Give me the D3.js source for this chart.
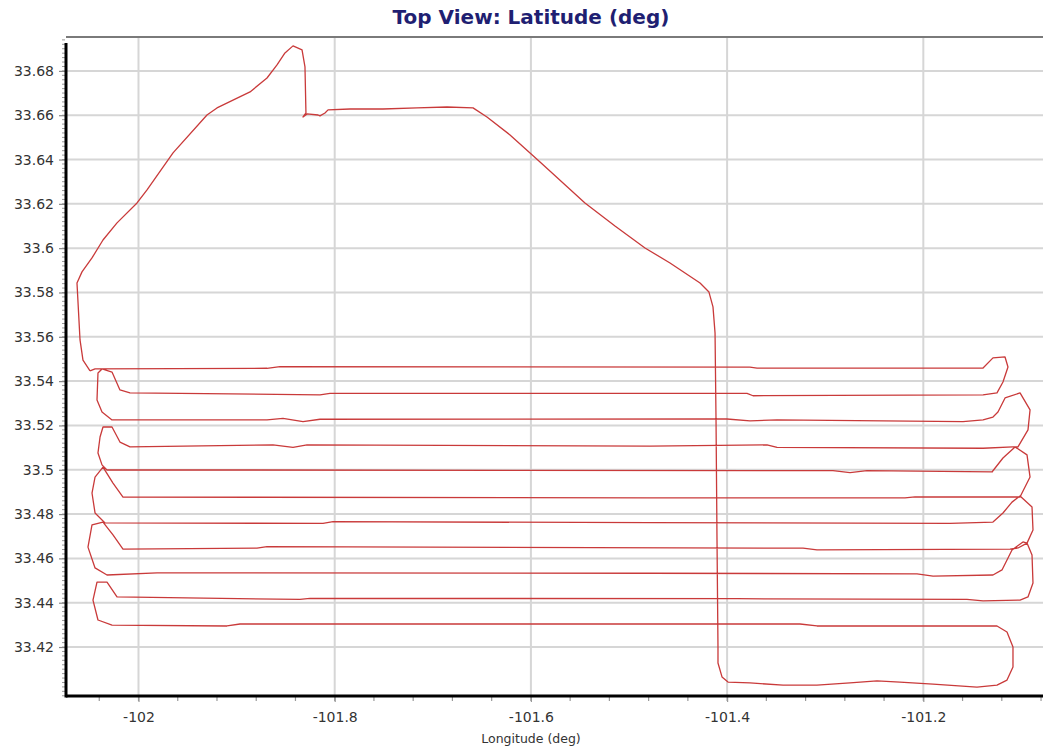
<!DOCTYPE html>
<html><head><meta charset="utf-8">
<script src="https://cdn.jsdelivr.net/npm/d3@7"></script>
<style>body{margin:0;background:#fff} svg{display:block}</style>
</head><body><svg id="c" width="1043" height="750"></svg>
<script>
const chartTitle = "Top View: Latitude (deg)";
const xTitle = "Longitude (deg)";
const xTicks = [-102, -101.8, -101.6, -101.4, -101.2];
const xTickLabels = ["-102", "-101.8", "-101.6", "-101.4", "-101.2"];
const yTicks = [33.42, 33.44, 33.46, 33.48, 33.5, 33.52, 33.54, 33.56, 33.58, 33.6, 33.62, 33.64, 33.66, 33.68];
const yTickLabels = ["33.42", "33.44", "33.46", "33.48", "33.5", "33.52", "33.54", "33.56", "33.58", "33.6", "33.62", "33.64", "33.66", "33.68"];

// flight track [longitude, latitude]
const climbOut = [
[-102.0494,33.5446],[-102.0566,33.5495],[-102.0596,33.5586],[-102.0627,33.5843],[-102.0576,33.5893],[-102.0474,33.5956],[-102.0362,33.6037],[-102.0219,33.6114],[-102.0015,33.6204],[-101.9913,33.6263],[-101.9648,33.6430],[-101.9302,33.6601],[-101.9200,33.6633],[-101.8863,33.6705],[-101.8690,33.6768],[-101.8588,33.6827],[-101.8507,33.6881],[-101.8425,33.6913],[-101.8333,33.6895],[-101.8303,33.6818],[-101.8293,33.6610],[-101.8323,33.6592],[-101.8282,33.6606],[-101.8170,33.6601],[-101.8150,33.6597],[-101.8099,33.6610],[-101.8068,33.6624],[-101.7844,33.6628],[-101.7508,33.6628],[-101.7161,33.6633],[-101.6855,33.6637],[-101.6590,33.6633],[-101.6448,33.6592]
];
const transit = [
[-101.6213,33.6511],[-101.5907,33.6389],[-101.5449,33.6204],[-101.5143,33.6100],[-101.4837,33.6001],[-101.4582,33.5933],[-101.4276,33.5843],[-101.4185,33.5802],[-101.4144,33.5735],[-101.4123,33.5617],[-101.4113,33.5225],[-101.4103,33.4683],[-101.4093,33.4200],[-101.4093,33.4128],[-101.4052,33.4065],[-101.3991,33.4042]
];
const bottomLeg = [
[-101.3767,33.4038],[-101.3430,33.4028],[-101.3084,33.4028],[-101.2747,33.4038],[-101.2472,33.4047],[-101.2238,33.4042],[-101.1901,33.4033],[-101.1453,33.4019],[-101.1249,33.4028],[-101.1147,33.4051],[-101.1086,33.4110],[-101.1086,33.4200],[-101.1147,33.4268],[-101.1249,33.4295]
];
const surveyPasses = [
[-101.3084,33.4295],[-101.3257,33.4304],[-101.8965,33.4304],[-101.9098,33.4295],[-102.0270,33.4299],
[-102.0413,33.4322],[-102.0464,33.4412],[-102.0423,33.4493],[-102.0321,33.4493],[-102.0219,33.4426],
[-101.8354,33.4415],[-101.8252,33.4420],[-101.3899,33.4418],[-101.1555,33.4415],[-101.1391,33.4408],[-101.1014,33.4412],
[-101.0933,33.4426],[-101.0882,33.4489],[-101.0892,33.4615],[-101.0943,33.4669],[-101.0984,33.4674],[-101.1096,33.4638],[-101.1198,33.4548],[-101.1290,33.4525],
[-101.1901,33.4520],[-101.2064,33.4530],[-101.4786,33.4533],[-101.9811,33.4535],[-102.0321,33.4525],
[-102.0443,33.4557],[-102.0515,33.4651],[-102.0474,33.4751],[-102.0362,33.4764],[-102.0260,33.4706],[-102.0158,33.4642],
[-101.8792,33.4646],[-101.8690,33.4653],[-101.3226,33.4646],[-101.3084,33.4638],[-101.1116,33.4642],
[-101.1035,33.4647],[-101.0943,33.4669],[-101.0882,33.4728],[-101.0892,33.4832],[-101.1014,33.4882],[-101.1096,33.4854],[-101.1188,33.4805],[-101.1290,33.4764],
[-101.1728,33.4758],[-101.4786,33.4761],[-101.8017,33.4766],[-101.8119,33.4758],[-102.0341,33.4760],
[-102.0443,33.4805],[-102.0474,33.4895],[-102.0443,33.4967],[-102.0362,33.5012],[-102.0260,33.4940],[-102.0158,33.4877],
[-101.4786,33.4873],[-101.2187,33.4873],[-101.2085,33.4878],[-101.1014,33.4877],
[-101.0994,33.4895],[-101.0912,33.4967],[-101.0943,33.5067],[-101.1065,33.5103],[-101.1188,33.5053],[-101.1300,33.4990],
[-101.2574,33.4996],[-101.2747,33.4987],[-101.2921,33.4996],[-101.9037,33.4999],[-102.0321,33.4999],
[-102.0372,33.5022],[-102.0413,33.5076],[-102.0392,33.5148],[-102.0362,33.5193],[-102.0270,33.5193],[-102.0189,33.5125],[-102.0087,33.5103],
[-101.8629,33.5112],[-101.8425,33.5101],[-101.8282,33.5112],[-101.4786,33.5107],[-101.3593,33.5112],[-101.3491,33.5101],[-101.1391,33.5097],[-101.1086,33.5103],
[-101.1035,33.5103],[-101.0933,33.5180],[-101.0912,33.5270],[-101.1014,33.5347],[-101.1167,33.5324],[-101.1239,33.5261],[-101.1290,33.5238],[-101.1391,33.5225],
[-101.1595,33.5217],[-101.3491,33.5225],[-101.3767,33.5221],[-101.4001,33.5229],[-101.8150,33.5228],[-101.8323,33.5217],[-101.8527,33.5232],[-101.8690,33.5225],[-102.0270,33.5225],
[-102.0372,33.5261],[-102.0423,33.5315],[-102.0413,33.5437],[-102.0372,33.5455],[-102.0270,33.5441],[-102.0189,33.5360],[-102.0087,33.5347],
[-101.8150,33.5338],[-101.8048,33.5345],[-101.3797,33.5345],[-101.3736,33.5334],[-101.1391,33.5338],
[-101.1249,33.5347],[-101.1188,33.5396],[-101.1137,33.5464],[-101.1167,33.5509],[-101.1290,33.5505],[-101.1391,33.5459],
[-101.3695,33.5459],[-101.3767,33.5463],[-101.8558,33.5465],[-101.8690,33.5458],[-102.0443,33.5455],[-102.0494,33.5446]
];

const W = 1043, H = 750;
const plot = {left: 66, right: 1043, top: 37, bottom: 696};
const svg = d3.select("#c");
const x = d3.scaleLinear().domain([-102.0739, -101.0780]).range([plot.left, plot.right]);
const y = d3.scaleLinear().domain([33.3979, 33.6953]).range([plot.bottom, plot.top]);

svg.append("rect").attr("width", W).attr("height", H).attr("fill", "#fff");

// gridlines
const grid = svg.append("g");
grid.selectAll("line.gx").data(xTicks).join("line")
  .attr("x1", d => x(d)).attr("x2", d => x(d))
  .attr("y1", plot.top).attr("y2", plot.bottom)
  .attr("stroke", "#d6d6d6").attr("stroke-width", 2);
grid.selectAll("line.gy").data(yTicks).join("line")
  .attr("y1", d => y(d)).attr("y2", d => y(d))
  .attr("x1", plot.left).attr("x2", plot.right)
  .attr("stroke", "#d6d6d6").attr("stroke-width", 2);

// top border
svg.append("line").attr("x1", plot.left).attr("x2", plot.right)
  .attr("y1", plot.top).attr("y2", plot.top)
  .attr("stroke", "#7a7a7a").attr("stroke-width", 2);

// flight path
const track = climbOut.concat(transit, bottomLeg, surveyPasses);
const line = d3.line().x(d => x(d[0])).y(d => y(d[1]));
svg.append("path").datum(track).attr("d", line)
  .attr("fill", "none").attr("stroke", "#c93a3a").attr("stroke-width", 1.3)
  .attr("stroke-linejoin", "round");

// minor ticks
const xMinor = d3.range(-102.04, -101.07, 0.04);
svg.append("g").selectAll("line").data(xMinor).join("line")
  .attr("x1", d => x(d)).attr("x2", d => x(d))
  .attr("y1", plot.bottom + 1).attr("y2", plot.bottom + 5)
  .attr("stroke", "#999").attr("stroke-width", 1.2);
const yMinor = d3.range(33.398, 33.695, 0.002);
svg.append("g").selectAll("line").data(yMinor).join("line")
  .attr("y1", d => y(d)).attr("y2", d => y(d))
  .attr("x1", plot.left - 4).attr("x2", plot.left - 1)
  .attr("stroke", "#999").attr("stroke-width", 1);

// major ticks via axes
const xAxis = d3.axisBottom(x).tickValues(xTicks).tickFormat((d, i) => xTickLabels[i]).tickSize(6).tickPadding(10);
const gx = svg.append("g").attr("transform", `translate(0,${plot.bottom})`).call(xAxis);
gx.select(".domain").remove();
gx.selectAll(".tick line").attr("stroke", "#999").attr("stroke-width", 1.2);
gx.selectAll(".tick text").attr("font-family", "DejaVu Sans, Verdana, sans-serif").attr("font-size", 14).attr("fill", "#333");

const yAxis = d3.axisLeft(y).tickValues(yTicks).tickFormat((d, i) => yTickLabels[i]).tickSize(7).tickPadding(5);
const gy = svg.append("g").attr("transform", `translate(${plot.left},0)`).call(yAxis);
gy.select(".domain").remove();
gy.selectAll(".tick line").attr("stroke", "#888").attr("stroke-width", 1.2);
gy.selectAll(".tick text").attr("font-family", "DejaVu Sans, Verdana, sans-serif").attr("font-size", 14).attr("fill", "#333");

// axis lines
svg.append("line").attr("x1", plot.left).attr("x2", plot.left)
  .attr("y1", plot.top + 6).attr("y2", plot.bottom + 1.5)
  .attr("stroke", "#000").attr("stroke-width", 3);
svg.append("line").attr("x1", plot.left).attr("x2", plot.right)
  .attr("y1", plot.bottom).attr("y2", plot.bottom)
  .attr("stroke", "#000").attr("stroke-width", 3);

// titles
svg.append("text").attr("x", 531).attr("y", 24).attr("text-anchor", "middle")
  .attr("font-family", "DejaVu Sans, Verdana, sans-serif").attr("font-weight", "bold")
  .attr("font-size", 20).attr("fill", "#1f1f72").text(chartTitle);
svg.append("text").attr("x", 531).attr("y", 743).attr("text-anchor", "middle")
  .attr("font-family", "DejaVu Sans, Verdana, sans-serif")
  .attr("font-size", 12.5).attr("fill", "#333").text(xTitle);
</script>
</body></html>
